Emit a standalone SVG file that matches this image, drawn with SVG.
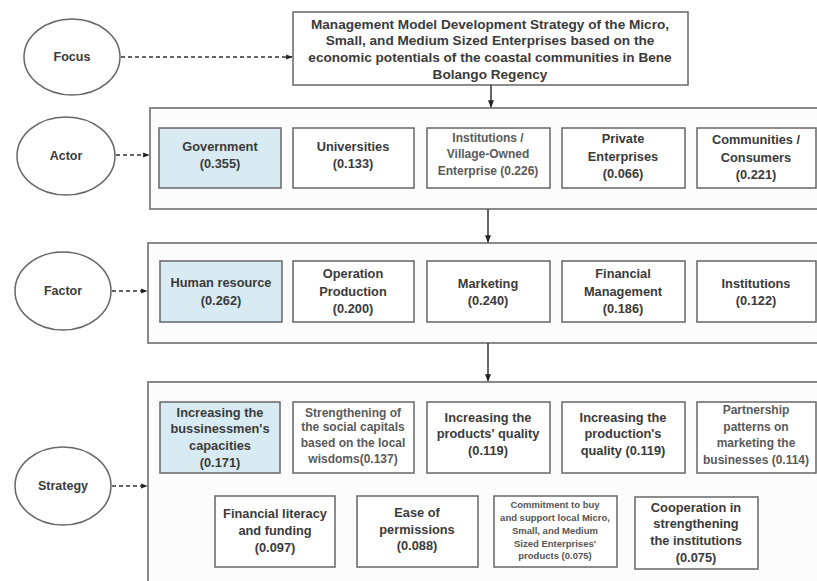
<svg xmlns="http://www.w3.org/2000/svg" width="817" height="581" viewBox="0 0 817 581">
<defs>
<marker id="ah" viewBox="0 0 10 10" refX="9" refY="5" markerWidth="5" markerHeight="5" orient="auto" markerUnits="strokeWidth">
<path d="M0,1 L10,5 L0,9 z" fill="#222"/>
</marker>
<style>
.bg{fill:#ffffff}
.ell{fill:#ffffff;stroke:#666;stroke-width:1.5}
.panel{fill:#fcfcfc;stroke:#8a8a8a;stroke-width:2}
.box{fill:#ffffff;stroke:#666;stroke-width:1.5}
.hl{fill:#d8ebf2;stroke:#666;stroke-width:1.5}
.t{font-family:"Liberation Sans",Arial,sans-serif;font-size:12.8px;font-weight:bold;fill:#3a3a3a;text-anchor:middle}
.tt{font-family:"Liberation Sans",Arial,sans-serif;font-size:13.6px;font-weight:bold;fill:#3a3a3a;text-anchor:middle}
.te{font-family:"Liberation Sans",Arial,sans-serif;font-size:12.5px;font-weight:bold;fill:#3a3a3a;text-anchor:middle}
.tl{font-family:"Liberation Sans",Arial,sans-serif;font-size:12px;font-weight:bold;fill:#5a5a5a;text-anchor:middle}
.ts{font-family:"Liberation Sans",Arial,sans-serif;font-size:9.5px;font-weight:bold;fill:#555;text-anchor:middle}
.dash{stroke:#333;stroke-width:1.3;stroke-dasharray:4,3;fill:none}
.solid{stroke:#333;stroke-width:1.5;fill:none}
</style>
</defs>
<rect class="bg" x="0" y="0" width="817" height="581"/>

<g id="focus">
<ellipse class="ell" cx="72" cy="57" rx="48" ry="38"/>
<text class="te" x="72" y="61">Focus</text>
</g>
<g id="title">
<rect class="box" x="293" y="12" width="395" height="73"/>
<text class="tt" x="490" y="29">Management Model Development Strategy of the Micro,</text>
<text class="tt" x="490" y="45">Small, and Medium Sized Enterprises based on the</text>
<text class="tt" x="490" y="62">economic potentials of the coastal communities in Bene</text>
<text class="tt" x="490" y="79">Bolango Regency</text>
</g>

<g id="actor">
<ellipse class="ell" cx="66" cy="156" rx="49" ry="39"/>
<text class="te" x="66" y="160">Actor</text>
</g>
<g id="actor-panel">
<rect class="panel" x="150" y="108" width="690" height="101"/>
</g>
<g id="government">
<rect class="hl" x="159" y="128" width="122" height="60"/>
<text class="t" x="220" y="151">Government</text>
<text class="t" x="220" y="168">(0.355)</text>
</g>
<g id="universities">
<rect class="box" x="293" y="128" width="121" height="60"/>
<text class="t" x="353" y="151">Universities</text>
<text class="t" x="353" y="168">(0.133)</text>
</g>
<g id="institutions-village">
<rect class="box" x="427" y="128" width="123" height="60"/>
<text class="tl" x="488" y="142">Institutions /</text>
<text class="tl" x="488" y="158">Village-Owned</text>
<text class="tl" x="488" y="175">Enterprise  (0.226)</text>
</g>
<g id="private">
<rect class="box" x="562" y="128" width="123" height="60"/>
<text class="t" x="623" y="143">Private</text>
<text class="t" x="623" y="161">Enterprises</text>
<text class="t" x="623" y="178">(0.066)</text>
</g>
<g id="communities">
<rect class="box" x="697" y="128" width="119" height="60"/>
<text class="t" x="756" y="144">Communities /</text>
<text class="t" x="756" y="162">Consumers</text>
<text class="t" x="756" y="179">(0.221)</text>
</g>

<g id="factor">
<ellipse class="ell" cx="63" cy="291" rx="48" ry="39"/>
<text class="te" x="63" y="295">Factor</text>
</g>
<g id="factor-panel">
<rect class="panel" x="148" y="243" width="692" height="100"/>
</g>
<g id="human">
<rect class="hl" x="160" y="261" width="122" height="61"/>
<text class="t" x="221" y="287">Human resource</text>
<text class="t" x="221" y="305">(0.262)</text>
</g>
<g id="operation">
<rect class="box" x="293" y="261" width="121" height="61"/>
<text class="t" x="353" y="278">Operation</text>
<text class="t" x="353" y="296">Production</text>
<text class="t" x="353" y="313">(0.200)</text>
</g>
<g id="marketing">
<rect class="box" x="427" y="261" width="123" height="61"/>
<text class="t" x="488" y="288">Marketing</text>
<text class="t" x="488" y="305">(0.240)</text>
</g>
<g id="financial">
<rect class="box" x="562" y="261" width="123" height="61"/>
<text class="t" x="623" y="278">Financial</text>
<text class="t" x="623" y="296">Management</text>
<text class="t" x="623" y="313">(0.186)</text>
</g>
<g id="institutions">
<rect class="box" x="697" y="261" width="119" height="61"/>
<text class="t" x="756" y="288">Institutions</text>
<text class="t" x="756" y="305">(0.122)</text>
</g>

<g id="strategy">
<ellipse class="ell" cx="63" cy="486" rx="48" ry="39"/>
<text class="te" x="63" y="490">Strategy</text>
</g>
<g id="strategy-panel">
<rect class="panel" x="148" y="382" width="692" height="220"/>
</g>
<g id="s-business">
<rect class="hl" x="160" y="402" width="120" height="71"/>
<text class="t" x="220" y="417">Increasing the</text>
<text class="t" x="220" y="433">bussinessmen's</text>
<text class="t" x="220" y="450">capacities</text>
<text class="t" x="220" y="467">(0.171)</text>
</g>
<g id="s-social">
<rect class="box" x="293" y="402" width="121" height="71"/>
<text class="tl" x="353" y="417">Strengthening of</text>
<text class="tl" x="353" y="431">the social capitals</text>
<text class="tl" x="353" y="447">based on  the local</text>
<text class="tl" x="353" y="463">wisdoms(0.137)</text>
</g>
<g id="s-products">
<rect class="box" x="427" y="402" width="123" height="71"/>
<text class="t" x="488" y="422">Increasing the</text>
<text class="t" x="488" y="438">products' quality</text>
<text class="t" x="488" y="455">(0.119)</text>
</g>
<g id="s-production">
<rect class="box" x="562" y="402" width="123" height="71"/>
<text class="t" x="623" y="422">Increasing the</text>
<text class="t" x="623" y="438">production's</text>
<text class="t" x="623" y="455">quality (0.119)</text>
</g>
<g id="s-partnership">
<rect class="box" x="697" y="402" width="119" height="71"/>
<text class="tl" x="756" y="414">Partnership</text>
<text class="tl" x="756" y="431">patterns on</text>
<text class="tl" x="756" y="447">marketing the</text>
<text class="tl" x="756" y="464">businesses (0.114)</text>
</g>
<g id="s-literacy">
<rect class="box" x="215" y="496" width="120" height="71"/>
<text class="t" x="275" y="518">Financial literacy</text>
<text class="t" x="275" y="535">and funding</text>
<text class="t" x="275" y="552">(0.097)</text>
</g>
<g id="s-ease">
<rect class="box" x="357" y="496" width="121" height="71"/>
<text class="t" x="417" y="517">Ease of</text>
<text class="t" x="417" y="534">permissions</text>
<text class="t" x="417" y="550">(0.088)</text>
</g>
<g id="s-commitment">
<rect class="box" x="494" y="496" width="123" height="71"/>
<text class="ts" x="555" y="508">Commitment to buy</text>
<text class="ts" x="555" y="521">and support local Micro,</text>
<text class="ts" x="555" y="534">Small, and Medium</text>
<text class="ts" x="555" y="547">Sized Enterprises'</text>
<text class="ts" x="555" y="559">products (0.075)</text>
</g>
<g id="s-cooperation">
<rect class="box" x="635" y="497" width="123" height="72"/>
<text class="t" x="696" y="512">Cooperation in</text>
<text class="t" x="696" y="528">strengthening</text>
<text class="t" x="696" y="545">the institutions</text>
<text class="t" x="696" y="562">(0.075)</text>
</g>

<g id="connectors">
<line class="dash" x1="121" y1="57" x2="292" y2="57" marker-end="url(#ah)"/>
<line class="dash" x1="116" y1="155" x2="149" y2="155" marker-end="url(#ah)"/>
<line class="dash" x1="112" y1="291" x2="147" y2="291" marker-end="url(#ah)"/>
<line class="dash" x1="112" y1="486" x2="147" y2="486" marker-end="url(#ah)"/>
<line class="solid" x1="491" y1="85" x2="491" y2="107" marker-end="url(#ah)"/>
<line class="solid" x1="488" y1="209" x2="488" y2="242" marker-end="url(#ah)"/>
<line class="solid" x1="488" y1="343" x2="488" y2="381" marker-end="url(#ah)"/>
</g>
</svg>
